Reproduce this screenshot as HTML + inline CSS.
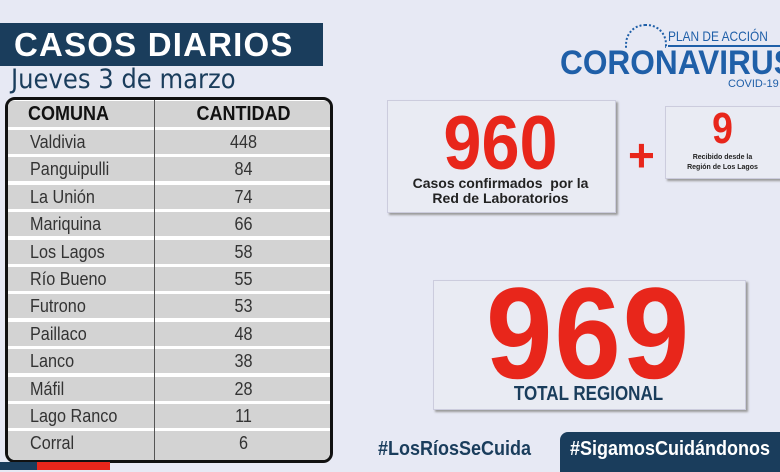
<!DOCTYPE html>
<html><head><meta charset="utf-8"><style>
body{margin:0;width:780px;height:470px;overflow:hidden;background:#e7e9f4;font-family:"Liberation Sans","DejaVu Sans",sans-serif;position:relative}
.a{position:absolute;white-space:nowrap}
.title{left:0;top:23px;width:323px;height:43px;background:#1a3d5c;color:#fff;font-weight:bold;font-size:33px;letter-spacing:1.2px;line-height:43px;padding-left:14px;box-sizing:border-box}
.sub{left:11px;top:64px;font-size:27px;color:#1a3d5c;font-family:"DejaVu Sans Condensed","Liberation Sans",sans-serif}
.tbl{left:5px;top:97px;width:322px;height:360px;border:3px solid #111;border-radius:10px;background:#fff;overflow:hidden}
.row{position:absolute;left:0;width:100%;height:24px;background:#d3d3d3;font-size:18px;color:#333;line-height:24px}
.row .c1{position:absolute;left:22px;transform:scaleX(0.9);transform-origin:left}.row .c2{position:absolute;left:149px;width:173px;text-align:center;transform:scaleX(0.9)}
.hd{font-weight:bold;color:#111;font-size:20px}
.div{position:absolute;left:146px;top:0;width:1px;height:100%;background:#555}
.box{background:#e9ebf3;box-shadow:2px 2px 2px #999;border:1px solid #ccd}
.red{color:#e8261b;font-weight:bold}
</style></head><body>
<div class="a title">CASOS DIARIOS</div>
<div class="a sub">Jueves 3 de marzo</div>
<div class="a tbl">
<div class="row hd" style="top:1px;height:26px;line-height:26px"><span class="c1" style="left:20px">COMUNA</span><span class="c2">CANTIDAD</span></div>
<div class="row" style="top:30px"><span class="c1">Valdivia</span><span class="c2">448</span></div>
<div class="row" style="top:57.4px"><span class="c1">Panguipulli</span><span class="c2">84</span></div>
<div class="row" style="top:84.8px"><span class="c1">La Unión</span><span class="c2">74</span></div>
<div class="row" style="top:112.2px"><span class="c1">Mariquina</span><span class="c2">66</span></div>
<div class="row" style="top:139.6px"><span class="c1">Los Lagos</span><span class="c2">58</span></div>
<div class="row" style="top:167px"><span class="c1">Río Bueno</span><span class="c2">55</span></div>
<div class="row" style="top:194.4px"><span class="c1">Futrono</span><span class="c2">53</span></div>
<div class="row" style="top:221.8px"><span class="c1">Paillaco</span><span class="c2">48</span></div>
<div class="row" style="top:249.2px"><span class="c1">Lanco</span><span class="c2">38</span></div>
<div class="row" style="top:276.6px"><span class="c1">Máfil</span><span class="c2">28</span></div>
<div class="row" style="top:304px"><span class="c1">Lago Ranco</span><span class="c2">11</span></div>
<div class="row" style="top:331.4px;height:30px"><span class="c1">Corral</span><span class="c2">6</span></div>
<div class="div"></div>
</div>
<div class="a" style="left:0;top:462px;width:37px;height:8px;background:#1a3d5c"></div>
<div class="a" style="left:37px;top:462px;width:73px;height:8px;background:#e8261b"></div>

<div class="a" style="left:668px;top:28px;font-size:14px;color:#1f5fa8;transform:scaleX(0.85);transform-origin:left">PLAN DE ACCIÓN</div>
<div class="a" style="left:668px;top:45px;width:112px;height:2px;background:#1f5fa8"></div>
<div class="a" style="left:625px;top:24px;width:38px;height:22px;border:2px dotted #1f5fa8;border-bottom:none;border-radius:20px 20px 0 0"></div>
<div class="a" style="left:560px;top:45px;font-size:34px;line-height:36px;font-weight:bold;color:#1f5fa8;transform:scaleX(0.93);transform-origin:left">CORONAVIRUS</div>
<div class="a" style="left:728px;top:78px;font-size:11px;color:#1f5fa8">COVID-19</div>

<div class="a box" style="left:387px;top:100px;width:227px;height:111px"></div>
<div class="a red" style="left:387px;top:104px;width:227px;text-align:center;font-size:76px;line-height:80px;transform:scaleX(0.9)">960</div>
<div class="a" style="left:387px;top:176px;width:227px;text-align:center;font-size:14px;font-weight:bold;color:#222;line-height:15px">Casos confirmados &nbsp;por la<br>Red de Laboratorios</div>
<div class="a red" style="left:628px;top:128px;font-size:46px">+</div>
<div class="a box" style="left:665px;top:106px;width:120px;height:71px"></div>
<div class="a red" style="left:665px;top:106px;width:115px;text-align:center;font-size:44px;line-height:46px;transform:scaleX(0.85)">9</div>
<div class="a" style="left:665px;top:153px;width:115px;text-align:center;font-size:7px;font-weight:bold;color:#222;line-height:10px">Recibido desde la<br>Región de Los Lagos</div>

<div class="a box" style="left:433px;top:280px;width:311px;height:128px"></div>
<div class="a red" style="left:433px;top:268px;width:311px;text-align:center;font-size:130px;line-height:130px;letter-spacing:2px;transform:scaleX(0.92)">969</div>
<div class="a" style="left:433px;top:383px;width:311px;text-align:center;font-size:20px;font-weight:bold;color:#1a3d5c;transform:scaleX(0.85)">TOTAL REGIONAL</div>

<div class="a" style="left:378px;top:438px;font-size:20px;font-weight:bold;color:#1a3d5c;transform:scaleX(0.9);transform-origin:left">#LosRíosSeCuida</div>
<div class="a" style="left:560px;top:432px;width:230px;height:40px;background:#1a3d5c;border-radius:8px 8px 0 0"></div>
<div class="a" style="left:570px;top:438px;font-size:20px;font-weight:bold;color:#fff;transform:scaleX(0.9);transform-origin:left">#SigamosCuidándonos</div>
</body></html>
